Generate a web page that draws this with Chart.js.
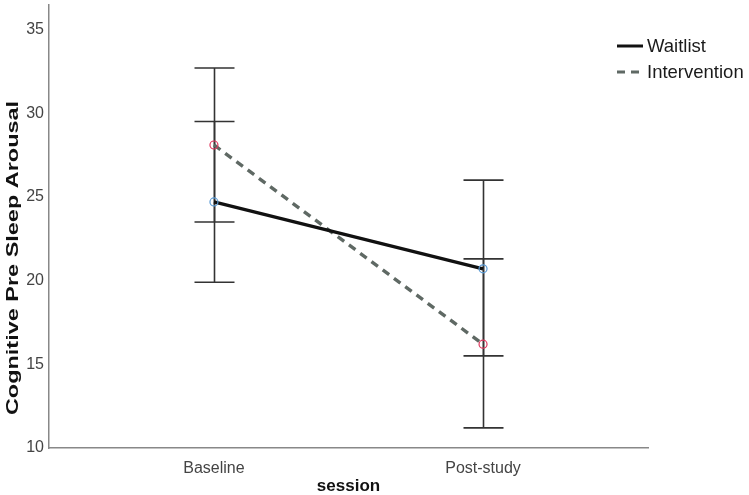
<!DOCTYPE html>
<html>
<head>
<meta charset="utf-8">
<script src="https://cdn.jsdelivr.net/npm/chart.js"></script>
<style>
  html, body { margin: 0; padding: 0; background: #fff; }
  #holder { width: 749px; height: 495px; position: relative; }
</style>
</head>
<body>
<div id="holder"><canvas id="arousalChart"></canvas></div>
<script>
    // session categories and group means / 95% CI
    const sessions = ['Baseline', 'Post-study'];
    const groups = ['Waitlist', 'Intervention'];
    const waitlistMean = [24.7, 20.7];
    const waitlistLow = [19.9, 15.5];
    const waitlistHigh = [29.5, 26.0];
    const interventionMean = [28.1, 16.2];
    const interventionLow = [23.5, 11.2];
    const interventionHigh = [32.7, 21.3];
    const yTicks = [10, 15, 20, 25, 30, 35];
    const yTitle = 'Cognitive Pre Sleep Arousal';

    const font = "'Liberation Sans', Arial, sans-serif";

    function pts(arr) {
        return arr.map((v, i) => ({ x: i, y: v }));
    }

    // vertical error bars with caps, drawn under the lines
    const errorBars = {
        id: 'errorBars',
        beforeDatasetsDraw(chart) {
            const ctx = chart.ctx;
            const xs = chart.scales.x, ys = chart.scales.y;
            const sets = [[waitlistLow, waitlistHigh], [interventionLow, interventionHigh]];
            ctx.save();
            ctx.strokeStyle = '#333';
            ctx.lineWidth = 1.6;
            sets.forEach(s => {
                s[0].forEach((lo, i) => {
                    const px = Math.round(xs.getPixelForValue(i)) + 0.5;
                    const top = ys.getPixelForValue(s[1][i]);
                    const bot = ys.getPixelForValue(lo);
                    ctx.beginPath();
                    ctx.moveTo(px, top); ctx.lineTo(px, bot);
                    ctx.moveTo(px - 20, top); ctx.lineTo(px + 20, top);
                    ctx.moveTo(px - 20, bot); ctx.lineTo(px + 20, bot);
                    ctx.stroke();
                });
            });
            ctx.restore();
        }
    };

    // legend in the top right corner + the stretched y axis title
    const extras = {
        id: 'extras',
        afterDraw(chart) {
            const ctx = chart.ctx;
            ctx.save();
            ctx.font = '18.5px ' + font;
            ctx.textBaseline = 'middle';
            chart.data.datasets.forEach((ds, i) => {
                const y = 46 + i * 26;
                ctx.strokeStyle = ds.borderColor;
                ctx.lineWidth = 3;
                ctx.setLineDash(ds.borderDash || []);
                ctx.beginPath();
                ctx.moveTo(617, y); ctx.lineTo(643, y);
                ctx.stroke();
                ctx.setLineDash([]);
                ctx.fillStyle = '#1a1a1a';
                ctx.fillText(ds.label, 647, y + 1);
            });
            ctx.restore();

            ctx.save();
            ctx.translate(13, 258);
            ctx.rotate(-Math.PI / 2);
            ctx.scale(1.38, 1);
            ctx.font = 'bold 17px ' + font;
            ctx.textAlign = 'center';
            ctx.textBaseline = 'middle';
            ctx.fillStyle = '#111';
            ctx.fillText(yTitle, 0, 0);
            ctx.restore();
        }
    };

    new Chart(document.getElementById('arousalChart'), {
        type: 'line',
        data: {
            datasets: [{
                label: groups[0],
                data: pts(waitlistMean),
                borderColor: '#111',
                borderWidth: 3.2,
                pointRadius: 4,
                pointBorderWidth: 1.2,
                pointBorderColor: '#5b9bd5',
                pointBackgroundColor: 'rgba(255,255,255,0)'
            }, {
                label: groups[1],
                data: pts(interventionMean),
                borderColor: '#5f6964',
                borderWidth: 3.4,
                borderDash: [8, 6],
                pointRadius: 4,
                pointBorderWidth: 1.2,
                pointBorderColor: '#e0385f',
                pointBackgroundColor: 'rgba(255,255,255,0)'
            }]
        },
        options: {
            responsive: true,
            maintainAspectRatio: false,
            animation: false,
            layout: { padding: { top: 2, right: 101, left: 0, bottom: 0 } },
            plugins: { legend: { display: false }, tooltip: { enabled: false } },
            scales: {
                x: {
                    type: 'linear',
                    min: -0.613,
                    max: 1.613,
                    afterBuildTicks: s => { s.ticks = sessions.map((_, i) => ({ value: i })); },
                    afterFit: s => { s.height = 47; s.paddingLeft = 0; s.paddingRight = 0; },
                    grid: { display: false, drawTicks: false },
                    border: { color: '#888', width: 1.5 },
                    ticks: {
                        callback: v => sessions[v],
                        color: '#444',
                        font: { family: font, size: 16 },
                        padding: 11
                    },
                    title: {
                        display: true,
                        text: 'session',
                        color: '#111',
                        font: { family: font, size: 17, weight: 'bold' },
                        padding: { top: 0, bottom: -2 }
                    }
                },
                y: {
                    min: 10,
                    max: 36.45,
                    afterBuildTicks: s => { s.ticks = yTicks.map(v => ({ value: v })); },
                    afterFit: s => { s.width = 49; s.paddingTop = 0; s.paddingBottom = 0; },
                    grid: { display: false, drawTicks: false },
                    border: { color: '#888', width: 1.5 },
                    ticks: {
                        color: '#444',
                        font: { family: font, size: 16 },
                        padding: 5
                    },
                    title: { display: false }
                }
            }
        },
        plugins: [errorBars, extras]
    });
</script>
</body>
</html>
